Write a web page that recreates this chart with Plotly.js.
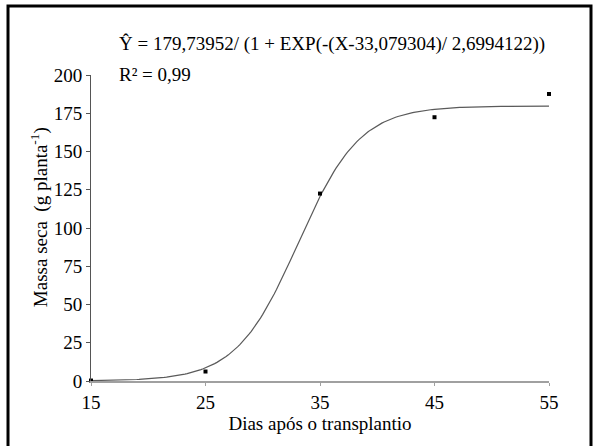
<!DOCTYPE html>
<html>
<head>
<meta charset="utf-8">
<script src="https://cdn.plot.ly/plotly-3.0.1.min.js"></script>
<style>
  html, body { margin: 0; padding: 0; background: #fff; }
  #chart { width: 597px; height: 446px; }
</style>
</head>
<body>
<div id="chart"></div>
<script>
// Observed dry mass per plant at each sampling date
const dias = [15, 25, 35, 45, 55];
const massaSeca = [0.3, 6.2, 122.5, 172.4, 187.6];

// Fitted logistic model parameters (as given in the equation)
const modelA = 179.73952;
const modelX0 = 33.079304;
const modelB = 2.6994122;

const xTicks = [15, 25, 35, 45, 55];
const yTicks = [0, 25, 50, 75, 100, 125, 150, 175, 200];

// Smooth curve of the fitted model over the sampled period
const curveX = [];
const curveY = [];
for (let x = 15; x <= 55.0001; x += 0.2) {
  curveX.push(x);
  curveY.push(modelA / (1 + Math.exp(-(x - modelX0) / modelB)));
}

const serif = "'Liberation Serif', 'Times New Roman', serif";
const fs = 19;

const traces = [
  {
    x: curveX, y: curveY, type: 'scatter', mode: 'lines',
    line: { color: '#5a5a5a', width: 1.2 },
    hoverinfo: 'skip', cliponaxis: false
  },
  {
    x: dias, y: massaSeca, type: 'scatter', mode: 'markers',
    marker: { symbol: 'square', size: 4, color: '#000' },
    cliponaxis: false
  }
];

const layout = {
  width: 597, height: 446,
  margin: { l: 91, r: 48, t: 75, b: 65 },
  paper_bgcolor: '#fff', plot_bgcolor: '#fff',
  showlegend: false,
  font: { family: serif, size: fs, color: '#000' },
  xaxis: {
    range: [15, 55], tickvals: xTicks, ticktext: xTicks.map(String),
    showgrid: false, zeroline: false,
    showline: true, linecolor: '#a0a0a0', linewidth: 2,
    ticks: 'outside', ticklen: 3, tickcolor: '#a0a0a0', tickwidth: 1,
    tickfont: { family: serif, size: fs, color: '#000' },
    title: { text: 'Dias após o transplantio', font: { family: serif, size: fs, color: '#000' }, standoff: 3 }
  },
  yaxis: {
    range: [0, 200], tickvals: yTicks, ticktext: yTicks.map(String),
    showgrid: false, zeroline: false,
    showline: true, linecolor: '#555', linewidth: 1,
    ticks: 'outside', ticklen: 4, tickcolor: '#555', tickwidth: 1,
    tickfont: { family: serif, size: fs, color: '#000' }
  },
  annotations: [
    {
      // y-axis title, placed slightly above the plot's vertical centre
      xref: 'paper', yref: 'paper', x: -0.111, y: 0.536, xanchor: 'center', yanchor: 'middle',
      textangle: -90,
      text: 'Massa seca  (g planta<sup>-1</sup>)',
      showarrow: false, font: { family: serif, size: fs, color: '#000' }
    },
    {
      xref: 'paper', yref: 'paper', x: 0.057, y: 1.10, xanchor: 'left', yanchor: 'middle',
      text: 'Ŷ = 179,73952/ (1 + EXP(-(X-33,079304)/ 2,6994122))',
      showarrow: false, font: { family: serif, size: fs, color: '#000' }
    },
    {
      xref: 'paper', yref: 'paper', x: 0.057, y: 1.003, xanchor: 'left', yanchor: 'middle',
      text: 'R² = 0,99',
      showarrow: false, font: { family: serif, size: fs, color: '#000' }
    }
  ],
  shapes: [
    {
      type: 'rect', xref: 'paper', yref: 'paper',
      x0: -0.1812, x1: 1.0917, y0: -0.24, y1: 1.2255,
      line: { color: '#000', width: 3 }, fillcolor: 'rgba(0,0,0,0)', layer: 'below'
    }
  ]
};

Plotly.newPlot('chart', traces, layout, { displayModeBar: false, staticPlot: true });
</script>
</body>
</html>
